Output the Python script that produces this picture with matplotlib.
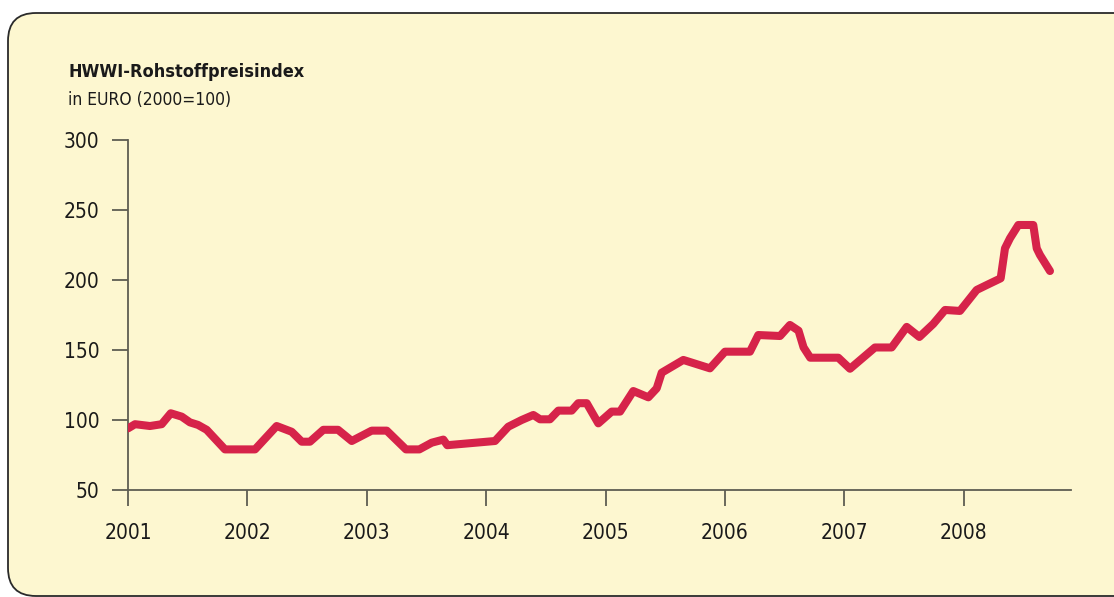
import numpy as np
import matplotlib.pyplot as plt
import matplotlib.patches as mpatches
from matplotlib.transforms import IdentityTransform

plt.rcParams['font.family'] = ['DejaVu Sans']
plt.rcParams['font.stretch'] = 'condensed'

# Stützpunkte der Kurve (Jahr als Dezimalzahl, Indexwert)
jahre = [2001.000, 2001.059, 2001.184, 2001.282, 2001.358, 2001.450, 2001.519,
         2001.586, 2001.659, 2001.812, 2002.064, 2002.245, 2002.371, 2002.455,
         2002.524, 2002.636, 2002.759, 2002.874, 2003.041, 2003.167, 2003.328,
         2003.440, 2003.544, 2003.641, 2003.674, 2004.074, 2004.185, 2004.297,
         2004.395, 2004.451, 2004.534, 2004.604, 2004.716, 2004.771, 2004.842,
         2004.939, 2005.051, 2005.121, 2005.232, 2005.358, 2005.428, 2005.470,
         2005.651, 2005.874, 2006.000, 2006.209, 2006.279, 2006.461, 2006.544,
         2006.616, 2006.658, 2006.714, 2006.949, 2007.047, 2007.256, 2007.396,
         2007.522, 2007.628, 2007.744, 2007.843, 2007.968, 2008.108, 2008.192,
         2008.309, 2008.345, 2008.387, 2008.457, 2008.582, 2008.611, 2008.638,
         2008.722]
index = [94, 97, 95.7, 97, 104.8, 102.4, 98.3,
         96.5, 93, 79, 79, 95.7, 91.6, 84.5,
         84.5, 93, 93, 85, 92.4, 92.4, 79,
         79, 83.8, 86, 82, 85, 95.2, 100,
         103.6, 100.5, 100.5, 106.7, 106.7, 112, 112,
         97.6, 106, 106, 120.7, 116.2, 122.6, 133.8,
         142.9, 136.9, 148.8, 148.8, 160.7, 160, 167.9,
         163.8, 151.9, 144.5, 144.5, 136.6, 151.8, 151.8,
         166.5, 159.3, 168.6, 178.6, 177.9, 192.9, 196.4,
         201.2, 222.6, 229.8, 239.3, 239.3, 222.6, 217.9,
         206.4]

x_ticks = [2001, 2002, 2003, 2004, 2005, 2006, 2007, 2008]
y_ticks = [50, 100, 150, 200, 250, 300]

hintergrund = '#fdf7d0'
achsenfarbe = '#5e5e52'
linienfarbe = '#d6234a'

fig = plt.figure(figsize=(11.14, 5.97), dpi=100, facecolor='white')

# Kasten mit abgerundeten Ecken (Pixelkoordinaten)
kasten = mpatches.FancyBboxPatch((8, 1), 1200, 583,
                                 boxstyle='round,pad=0,rounding_size=28',
                                 facecolor=hintergrund, edgecolor='#2a2a2a',
                                 linewidth=1.3, transform=IdentityTransform(),
                                 zorder=0)
fig.patches.append(kasten)

ax = fig.add_axes([128 / 1114, 1 - 490 / 597, 943 / 1114, 350 / 597])
ax.set_facecolor('none')
ax.set_zorder(2)

ax.plot(jahre, index, color=linienfarbe, linewidth=5.8,
        solid_capstyle='round', solid_joinstyle='round', zorder=3)

ax.set_xlim(2001, 2008.898)
ax.set_ylim(50, 300)
ax.set_xticks(x_ticks)
ax.set_xticklabels([str(j) for j in x_ticks])
ax.set_yticks(y_ticks)
ax.set_yticklabels([str(v) for v in y_ticks])

for s in ['top', 'right']:
    ax.spines[s].set_visible(False)
for s in ['left', 'bottom']:
    ax.spines[s].set_color(achsenfarbe)
    ax.spines[s].set_linewidth(1.3)

ax.tick_params(axis='both', direction='out', length=11.5, width=1.3,
               color=achsenfarbe, labelsize=15, labelcolor='#1a1a1a')
ax.tick_params(axis='y', pad=9)
ax.tick_params(axis='x', pad=12)

fig.text(68 / 1114, 1 - 77 / 597, 'HWWI-Rohstoffpreisindex', fontsize=13,
         fontweight='bold', color='#1a1a1a', va='baseline', ha='left')
fig.text(68 / 1114, 1 - 105 / 597, 'in EURO (2000=100)', fontsize=12.5,
         color='#1a1a1a', va='baseline', ha='left')

fig.savefig('out.png', dpi=100, facecolor='white')
